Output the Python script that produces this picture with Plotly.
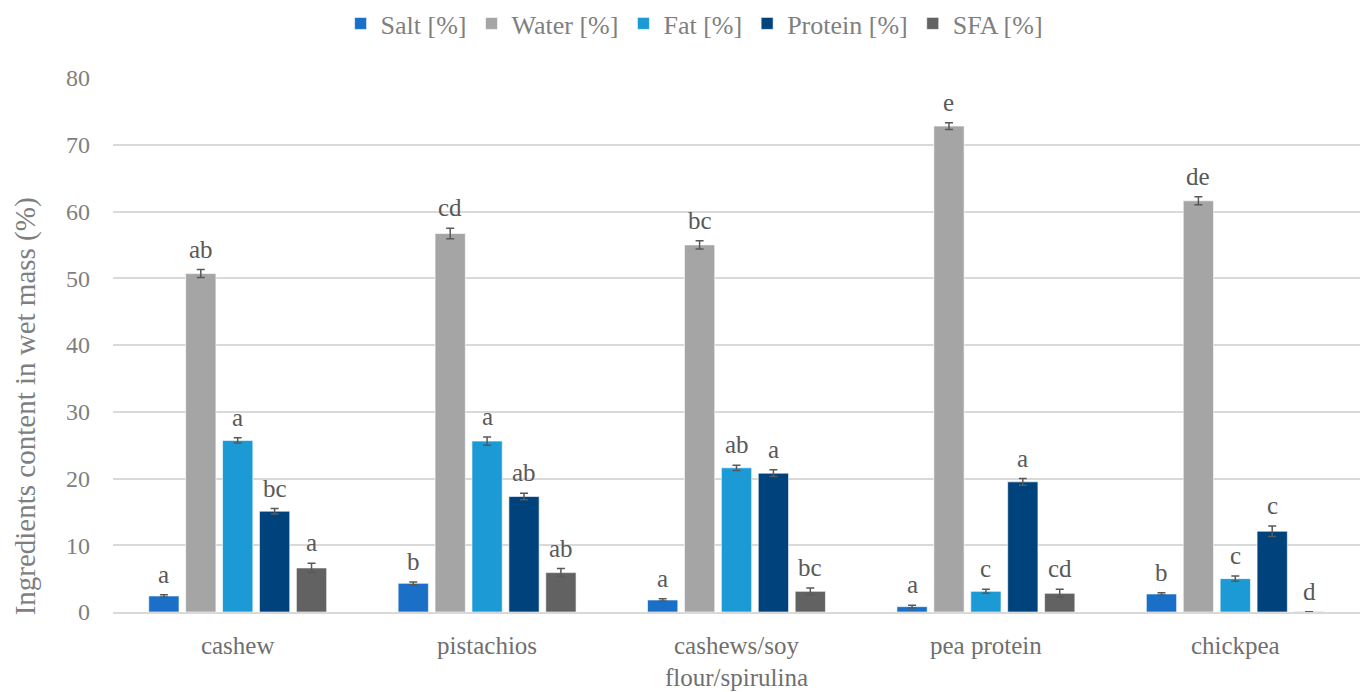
import plotly.graph_objects as go

categories = ["cashew", "pistachios", "cashews/soy<br>flour/spirulina", "pea protein", "chickpea"]
series_names = ["Salt [%]", "Water [%]", "Fat [%]", "Protein [%]", "SFA [%]"]
salt = [2.4, 4.3, 1.8, 0.8, 2.7]
water = [50.7, 56.7, 55.0, 72.8, 61.6]
fat = [25.7, 25.6, 21.6, 3.1, 5.0]
protein = [15.1, 17.3, 20.8, 19.5, 12.1]
sfa = [6.6, 5.9, 3.1, 2.8, 0.05]
salt_err = [0.2, 0.2, 0.2, 0.2, 0.2]
water_err = [0.6, 0.8, 0.6, 0.5, 0.6]
fat_err = [0.4, 0.6, 0.4, 0.3, 0.4]
protein_err = [0.4, 0.5, 0.5, 0.5, 0.8]
sfa_err = [0.7, 0.6, 0.5, 0.6, 0.0]
salt_lbl = ["a", "b", "a", "a", "b"]
water_lbl = ["ab", "cd", "bc", "e", "de"]
fat_lbl = ["a", "a", "ab", "c", "c"]
protein_lbl = ["bc", "ab", "a", "a", "c"]
sfa_lbl = ["a", "ab", "bc", "cd", "d"]
y_title = "Ingredients content in wet mass (%)"

values = [salt, water, fat, protein, sfa]
errors = [salt_err, water_err, fat_err, protein_err, sfa_err]
labels = [salt_lbl, water_lbl, fat_lbl, protein_lbl, sfa_lbl]
colors = ["#1A6FC6", "#A5A5A5", "#1C9AD6", "#00427B", "#626262"]

FONT = "Liberation Serif"
W, H = 1360, 692
ML, MR, MT, MB = 113, 0, 77, 80
BARGAP, GROUPGAP = 0.26, 0.18

fig = go.Figure()
for name, v, e, c in zip(series_names, values, errors, colors):
    fig.add_trace(go.Bar(
        name=name, x=categories, y=v, marker_color=c,
        marker_line=dict(color="rgba(255,255,255,0.6)", width=1),
        error_y=dict(type="data", array=e, visible=True, color="#595959",
                     thickness=1.5, width=4),
    ))

# letter labels above error bars
cat_px = (W - ML - MR) / len(categories)
slot_px = cat_px * (1 - BARGAP) / len(series_names)
annotations = []
for i, (v, e, lb) in enumerate(zip(values, errors, labels)):
    for j, cat in enumerate(categories):
        annotations.append(dict(
            x=cat, y=v[j] + e[j], xref="x", yref="y", text=lb[j],
            showarrow=False, yanchor="bottom", yshift=5,
            xshift=(i - (len(series_names) - 1) / 2) * slot_px,
            font=dict(family=FONT, size=25, color="#595959"),
        ))

# y-axis title (placed lower than axis centre, as in the reference)
annotations.append(dict(
    text=y_title, xref="paper", yref="paper", x=-0.0706, y=0.385,
    xanchor="center", yanchor="middle", textangle=-90, showarrow=False,
    font=dict(family=FONT, size=29, color="#7F7F7F"),
))

fig.update_layout(
    width=W, height=H,
    margin=dict(l=ML, r=MR, t=MT, b=MB),
    paper_bgcolor="white", plot_bgcolor="white",
    barmode="group", bargap=BARGAP, bargroupgap=GROUPGAP,
    font=dict(family=FONT, size=24, color="#595959"),
    legend=dict(orientation="h", x=0.466, xanchor="center",
                y=1.103, yanchor="middle",
                font=dict(family=FONT, size=26, color="#7F7F7F"), itemwidth=30,
                traceorder="normal"),
    xaxis=dict(showgrid=False, showline=True, linecolor="#D9D9D9", linewidth=1.5,
               ticks="", ticklabelstandoff=10,
               tickfont=dict(family=FONT, size=25, color="#6F6F6F")),
    yaxis=dict(range=[0, 80], dtick=10, showgrid=True, gridcolor="#D9D9D9", gridwidth=1.5,
               zeroline=False, ticks="", ticklabelstandoff=22,
               tickfont=dict(family=FONT, size=24, color="#7F7F7F")),
    annotations=annotations,
)

fig.write_html("out.html")
